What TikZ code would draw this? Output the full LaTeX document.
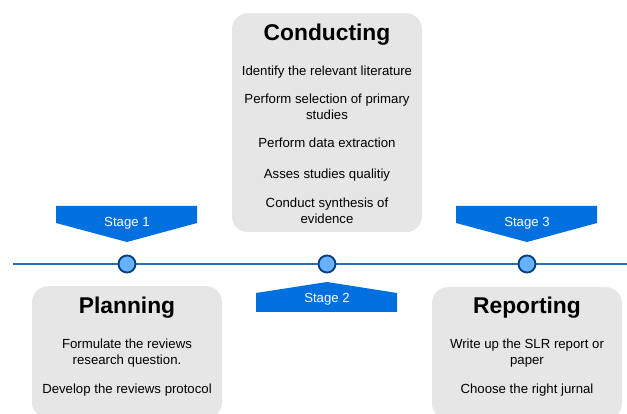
\documentclass[tikz,border=0pt]{standalone}
\usepackage{fontspec}
\setmainfont{Liberation Sans}
\usetikzlibrary{positioning,calc}

\definecolor{boxgray}{RGB}{230,230,230}
\definecolor{stageblue}{RGB}{0,112,224}
\definecolor{linkblue}{RGB}{45,108,180}
\definecolor{dotfill}{RGB}{102,178,255}
\definecolor{dotdraw}{RGB}{0,60,130}

\tikzset{
    phasebox/.style={fill=boxgray, rounded corners=16pt, minimum width=190pt, anchor=north},
    phasetitle/.style={font=\fontsize{22.8}{26}\selectfont\bfseries, inner sep=0pt},
    phasetext/.style={font=\fontsize{13.2}{16.5}\selectfont, align=center, inner sep=0pt, anchor=north},
    stagedot/.style={circle, fill=dotfill, draw=dotdraw, line width=1.8pt, minimum size=17pt, inner sep=0pt},
    stagelabel/.style={font=\fontsize{13.2}{15}\selectfont, text=white, inner sep=0pt},
}

\begin{document}
\begin{tikzpicture}[x=1pt, y=-1pt]
    \useasboundingbox (0,0) rectangle (627,414);

    % Boxes
    \node[phasebox, minimum height=219pt] (conducting) at (327,13) {};
    \node[phasebox, minimum height=132pt] (planning) at (127,286) {};
    \node[phasebox, minimum height=132pt] (reporting) at (527,287) {};

    \node[phasetitle] (conductingtitle) at (327,34.5) {Conducting};
    \node[phasetext] (conductingtext) at (327,65.5) {Identify the relevant literature\\[11.5pt]
        Perform selection of primary\\ studies\\[11.5pt]
        Perform data extraction\\[14pt]
        Asses studies qualitiy\\[12.5pt]
        Conduct synthesis of\\ evidence};

    \node[phasetitle] (planningtitle) at (127,307.5) {Planning};
    \node[phasetext] (planningtext) at (127,338.5) {Formulate the reviews\\ research question.\\[12.5pt]
        Develop the reviews protocol};

    \node[phasetitle] (reportingtitle) at (527,307.5) {Reporting};
    \node[phasetext] (reportingtext) at (527,338.5) {Write up the SLR report or\\ paper\\[12.5pt]
        Choose the right jurnal};

    % Timeline
    \coordinate (start) at (13,264);
    \coordinate (end) at (627,264);
    \draw[linkblue, line width=1.5pt] (start) -- (end);

    \node[stagedot] (dot1) at (127,264) {};
    \node[stagedot] (dot2) at (327,264) {};
    \node[stagedot] (dot3) at (527,264) {};

    % Stages
    \fill[stageblue] (56,206) -- (197,206) -- (197,223) -- (dot1.north |- 0,242) -- (56,223) -- cycle;
    \fill[stageblue] (456,206) -- (597,206) -- (597,223) -- (dot3.north |- 0,242) -- (456,223) -- cycle;
    \fill[stageblue] (256,312) -- (397,312) -- (397,293) -- (dot2.south |- 0,282) -- (256,293) -- cycle;

    \node[stagelabel] (stage1) at (127,223) {Stage 1};
    \node[stagelabel] (stage2) at (327,299.5) {Stage 2};
    \node[stagelabel] (stage3) at (527,223) {Stage 3};
\end{tikzpicture}
\end{document}
